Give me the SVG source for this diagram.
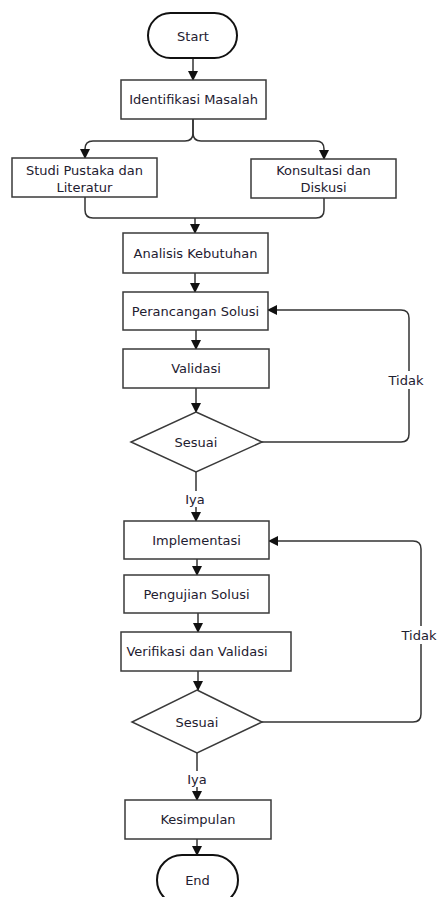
<svg xmlns="http://www.w3.org/2000/svg" width="438" height="897" viewBox="0 0 438 897">
<style>
.box{fill:#fff;stroke:#3a3a3a;stroke-width:1.5}
.term{fill:#fff;stroke:#111;stroke-width:2}
.ln{fill:none;stroke:#333;stroke-width:1.5}
.t{font-family:"DejaVu Sans",Verdana,sans-serif;font-size:13px;fill:#1e2030;text-anchor:middle;dominant-baseline:central}
.lbl{fill:#fff}
</style>
<defs>
<marker id="ah" markerWidth="10" markerHeight="10" refX="9" refY="5" orient="auto" markerUnits="userSpaceOnUse">
<path d="M0,0 L10,5 L0,10 Z" fill="#111"/>
</marker>
</defs>
<rect width="438" height="897" fill="#fff"/>
<g id="connectors">
<path class="ln" d="M193,58 V80" marker-end="url(#ah)"/>
<path class="ln" d="M193,119 V133 Q193,141 185,141 H93 Q85,141 85,149 V158" marker-end="url(#ah)"/>
<path class="ln" d="M193,119 V133 Q193,141 201,141 H316 Q324,141 324,149 V159" marker-end="url(#ah)"/>
<path class="ln" d="M85,197 V210 Q85,218 93,218 H195"/>
<path class="ln" d="M324,198 V210 Q324,218 316,218 H195"/>
<path class="ln" d="M195,218 V233" marker-end="url(#ah)"/>
<path class="ln" d="M195,273 V292" marker-end="url(#ah)"/>
<path class="ln" d="M196,330 V349" marker-end="url(#ah)"/>
<path class="ln" d="M196,388 V412" marker-end="url(#ah)"/>
<path class="ln" d="M262,442 H401 Q409,442 409,434 V318 Q409,310 401,310 H268" marker-end="url(#ah)"/>
<path class="ln" d="M196,472 V521" marker-end="url(#ah)"/>
<path class="ln" d="M197,559 V575" marker-end="url(#ah)"/>
<path class="ln" d="M198,613 V632" marker-end="url(#ah)"/>
<path class="ln" d="M198,671 V690" marker-end="url(#ah)"/>
<path class="ln" d="M262,722 H413 Q421,722 421,714 V549 Q421,541 413,541 H269" marker-end="url(#ah)"/>
<path class="ln" d="M197,753 V800" marker-end="url(#ah)"/>
<path class="ln" d="M197,839 V855" marker-end="url(#ah)"/>
<rect class="lbl" x="389" y="371" width="36" height="18"/>
<text class="t" x="406" y="380">Tidak</text>
<rect class="lbl" x="401" y="626" width="37" height="18"/>
<text class="t" x="419" y="635">Tidak</text>
<rect class="lbl" x="183" y="491" width="24" height="16"/>
<text class="t" x="195" y="499">Iya</text>
<rect class="lbl" x="185" y="771" width="24" height="16"/>
<text class="t" x="197" y="779">Iya</text>
</g>
<g id="start"><rect class="term" x="148" y="13" width="89" height="45" rx="22.5"/><text class="t" x="193" y="36">Start</text></g>
<g id="identifikasi"><rect class="box" x="121" y="80" width="145" height="39"/><text class="t" x="193.5" y="99.5">Identifikasi Masalah</text></g>
<g id="studi"><rect class="box" x="12" y="158" width="145" height="39"/><text class="t" x="84.5" y="170">Studi Pustaka dan</text><text class="t" x="84.5" y="187">Literatur</text></g>
<g id="konsultasi"><rect class="box" x="251" y="159" width="145" height="39"/><text class="t" x="323.5" y="170">Konsultasi dan</text><text class="t" x="323.5" y="187">Diskusi</text></g>
<g id="analisis"><rect class="box" x="123" y="233" width="145" height="40"/><text class="t" x="195.5" y="253">Analisis Kebutuhan</text></g>
<g id="perancangan"><rect class="box" x="123" y="292" width="145" height="38"/><text class="t" x="195.5" y="311">Perancangan Solusi</text></g>
<g id="validasi"><rect class="box" x="123" y="349" width="146" height="39"/><text class="t" x="196" y="368.5">Validasi</text></g>
<g id="sesuai1"><path class="box" d="M196,412 L262,442 L196,472 L131,442 Z"/><text class="t" x="196" y="442">Sesuai</text></g>
<g id="implementasi"><rect class="box" x="124" y="521" width="145" height="38"/><text class="t" x="196.5" y="540">Implementasi</text></g>
<g id="pengujian"><rect class="box" x="124" y="575" width="145" height="38"/><text class="t" x="196.5" y="594">Pengujian Solusi</text></g>
<g id="verifikasi"><rect class="box" x="121" y="632" width="170" height="39"/><text class="t" x="197" y="651.5">Verifikasi dan Validasi</text></g>
<g id="sesuai2"><path class="box" d="M197,690 L262,722 L197,753 L132,722 Z"/><text class="t" x="197" y="722">Sesuai</text></g>
<g id="kesimpulan"><rect class="box" x="125" y="800" width="146" height="39"/><text class="t" x="198" y="819.5">Kesimpulan</text></g>
<g id="end"><rect class="term" x="157" y="855" width="81" height="50" rx="25"/><text class="t" x="197.5" y="880">End</text></g>
</svg>
